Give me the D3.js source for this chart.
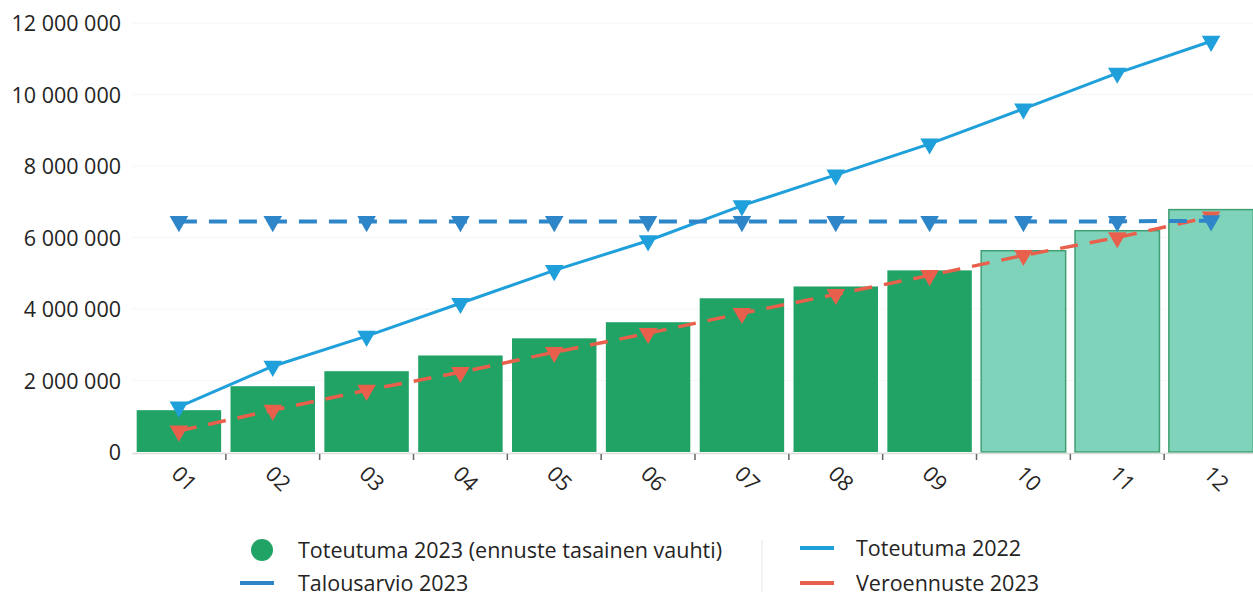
<!DOCTYPE html>
<html><head><meta charset="utf-8">
<script src="https://cdn.jsdelivr.net/npm/d3@7/dist/d3.min.js"></script>
<style>body{margin:0;background:#fff}svg{display:block}text{font-family:"Open Sans","Noto Sans",sans-serif;fill:#252423}</style>
</head><body><svg id="c" width="1253" height="596"></svg>
<script>
const months = ["01","02","03","04","05","06","07","08","09","10","11","12"];
const toteutuma2023 = [1170000,1840000,2260000,2700000,3180000,3630000,4300000,4630000,5080000,5630000,6190000,6780000];
const isForecast = [false,false,false,false,false,false,false,false,false,true,true,true];
const toteutuma2022 = [1260000,2400000,3240000,4160000,5080000,5910000,6890000,7750000,8620000,9600000,10600000,11490000];
const talousarvio2023 = [6450000,6450000,6450000,6450000,6450000,6450000,6450000,6450000,6450000,6450000,6450000,6470000];
const veroennuste2023 = [590000,1170000,1730000,2230000,2790000,3320000,3880000,4410000,4940000,5500000,6000000,6580000];
const yTicks = [0,2000000,4000000,6000000,8000000,10000000,12000000];
const legendLabels = ["Toteutuma 2023 (ennuste tasainen vauhti)","Talousarvio 2023","Toteutuma 2022","Veroennuste 2023"];

const svg = d3.select("#c");
const x = d3.scaleBand().domain(months).range([132,1258]).paddingInner(0.1).paddingOuter(0.05);
const y = d3.scaleLinear().domain([0,12000000]).range([452,23]);
const fmt = v => d3.format(",")(v).replace(/,/g," ");

// faint gridlines
svg.append("g").selectAll("line").data(yTicks.slice(1)).join("line")
  .attr("x1",132).attr("x2",1253).attr("y1",d=>y(d)).attr("y2",d=>y(d))
  .attr("stroke","#f6f6f6").attr("stroke-width",1);

// y labels
const ya = svg.append("g").attr("transform","translate(121,0)")
  .call(d3.axisLeft(y).tickValues(yTicks).tickSize(0).tickPadding(0).tickFormat(fmt));
ya.select(".domain").remove();
ya.selectAll("text").style("font-size","21.5px").attr("fill","#252423").attr("dy","0.35em");

// bars
svg.append("g").selectAll("rect").data(months).join("rect")
  .attr("x",d=>x(d)).attr("width",x.bandwidth())
  .attr("y",(d,i)=>y(toteutuma2023[i])).attr("height",(d,i)=>y(0)-y(toteutuma2023[i]))
  .attr("fill",(d,i)=>isForecast[i]?"#80d3bb":"#21a366")
  .attr("stroke",(d,i)=>isForecast[i]?"#3f9f73":"none").attr("stroke-width",1.5);

// x axis
const xa = svg.append("g").attr("transform",`translate(0,${y(0)+1})`)
  .call(d3.axisBottom(x).tickSize(0).tickPadding(0));
xa.select(".domain").attr("stroke","#dcdcdc").attr("stroke-width",1.5);
xa.selectAll("text").style("font-size","21.5px").attr("fill","#252423")
  .attr("text-anchor","middle").attr("dy",0)
  .attr("transform","translate(0,31) rotate(45)");
// small tick marks at band boundaries
svg.append("g").selectAll("line").data(months.slice(1)).join("line")
  .attr("x1",d=>x(d)-x.step()*0.05).attr("x2",d=>x(d)-x.step()*0.05)
  .attr("y1",y(0)+2).attr("y2",y(0)+8).attr("stroke","#666").attr("stroke-width",1.5);

const cx = d => x(d)+x.bandwidth()/2;
const tri = d3.symbol().type(d3.symbolTriangle).size(150);

function series(vals,color,dash,width){
  const line = d3.line().x((d,i)=>cx(months[i])).y(d=>y(d));
  const g = svg.append("g");
  g.append("path").datum(vals).attr("d",line).attr("fill","none")
    .attr("stroke",color).attr("stroke-width",width).attr("stroke-dasharray",dash);
  g.selectAll("path.m").data(vals).join("path").attr("class","m")
    .attr("d",tri).attr("fill",color)
    .attr("transform",(d,i)=>`translate(${cx(months[i])},${y(d)}) rotate(180)`);
}
series(veroennuste2023,"#e8604c","18,12",3.5);
series(toteutuma2022,"#1fa0da",null,3);
series(talousarvio2023,"#2e86c9","18,12",4);

// legend
const lg = svg.append("g").style("font-size","21.5px");
lg.append("circle").attr("cx",262).attr("cy",550).attr("r",11).attr("fill","#21a366");
lg.append("text").attr("x",298).attr("y",550).attr("dy","0.35em").text(legendLabels[0]);
lg.append("line").attr("x1",240).attr("x2",274).attr("y1",583).attr("y2",583).attr("stroke","#2e86c9").attr("stroke-width",4);
lg.append("text").attr("x",298).attr("y",583).attr("dy","0.35em").text(legendLabels[1]);
lg.append("line").attr("x1",762).attr("x2",762).attr("y1",540).attr("y2",592).attr("stroke","#e6e6e6").attr("stroke-width",1);
lg.append("line").attr("x1",800).attr("x2",834).attr("y1",548).attr("y2",548).attr("stroke","#1fa0da").attr("stroke-width",4);
lg.append("text").attr("x",856).attr("y",548).attr("dy","0.35em").text(legendLabels[2]);
lg.append("line").attr("x1",800).attr("x2",834).attr("y1",583).attr("y2",583).attr("stroke","#e8604c").attr("stroke-width",4);
lg.append("text").attr("x",856).attr("y",583).attr("dy","0.35em").text(legendLabels[3]);
</script></body></html>
